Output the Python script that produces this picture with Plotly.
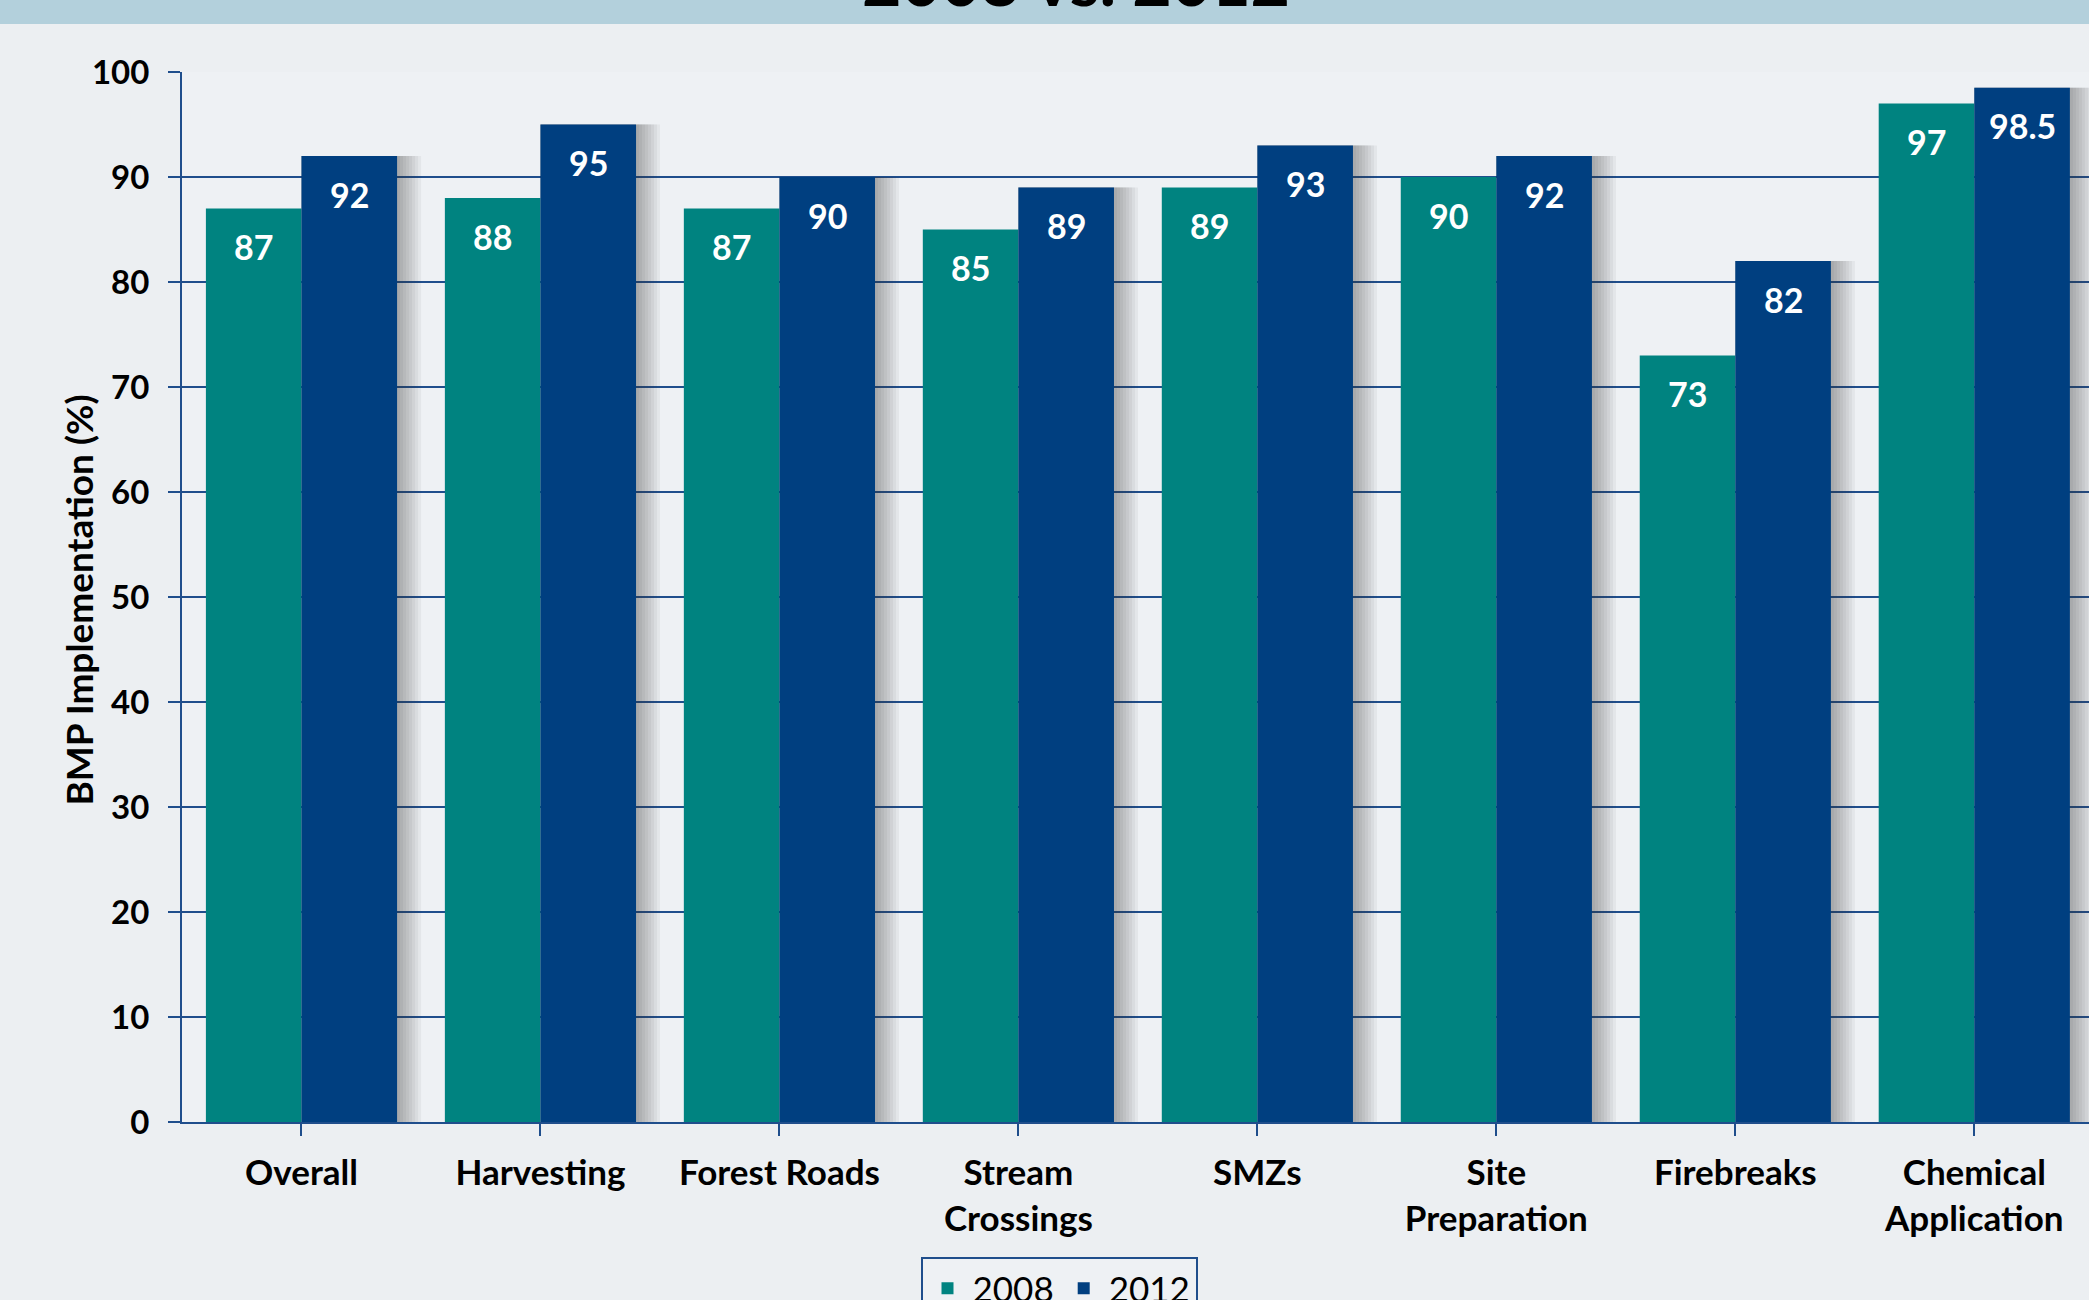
import plotly.graph_objects as go

categories = ["Overall", "Harvesting", "Forest Roads", "Stream<br>Crossings", "SMZs",
              "Site<br>Preparation", "Firebreaks", "Chemical<br>Application"]
values_2008 = [87, 88, 87, 85, 89, 90, 73, 97]
values_2012 = [92, 95, 90, 89, 93, 92, 82, 98.5]
series_names = ["2008", "2012"]
y_ticks = [0, 10, 20, 30, 40, 50, 60, 70, 80, 90, 100]

TEAL = "#008380"
NAVY = "#003F80"
GRID = "#1F4E8C"
FONT = "Lato"

W, H = 2089, 1300
L, R, T, B = 182, 0, 72, 178
X_RANGE = [-0.5, 7.48]
px_per_cat = (W - L - R) / (X_RANGE[1] - X_RANGE[0])
BW = 0.4

fig = go.Figure()
x_idx = list(range(len(categories)))

# soft drop shadow to the right of each bar group (layers of translucent gray)
for k in range(1, 9):
    ext = 3 * k / px_per_cat
    fig.add_trace(go.Bar(
        x=x_idx, y=values_2012, offset=0, width=BW + ext,
        marker=dict(color="rgba(60,60,60,0.055)", line=dict(width=0)),
        showlegend=False, hoverinfo="skip",
    ))

for name, vals, col, off in [(series_names[0], values_2008, TEAL, -BW),
                             (series_names[1], values_2012, NAVY, 0)]:
    fig.add_trace(go.Bar(
        x=x_idx, y=vals, name=name, offset=off, width=BW,
        marker=dict(color=col, line=dict(width=0)),
    ))

# value labels inside bar tops
bar_px = px_per_cat * BW
for vals, sh in [(values_2008, -bar_px / 2), (values_2012, bar_px / 2)]:
    for i, v in enumerate(vals):
        fig.add_annotation(x=i, y=v, xref="x", yref="y", text=f"<b>{v:g}</b>",
                           showarrow=False, xshift=sh, yshift=-38,
                           font=dict(family=FONT, size=34, color="white"))

plot_h = H - T - B
# top band
fig.add_shape(type="rect", xref="paper", yref="paper",
              x0=-L / (W - L), x1=1.0, y0=(plot_h + T - 24) / plot_h, y1=(plot_h + T + 5) / plot_h,
              fillcolor="#B3D0DC", line=dict(width=0), layer="below")
# title partially cut at top edge
fig.add_annotation(xref="paper", yref="paper", x=(1076 - L) / (W - L), y=(plot_h + T - 22) / plot_h,
                   yanchor="bottom", text="<b>2008 vs. 2012</b>", showarrow=False,
                   font=dict(family=FONT, size=68, color="black"))
# y title
fig.add_annotation(xref="paper", yref="paper", x=(53 - L) / (W - L), y=(1122 - 600) / plot_h,
                   text="<b>BMP Implementation (%)</b>", textangle=-90, showarrow=False,
                   font=dict(family=FONT, size=37, color="black"))

fig.update_layout(
    width=W, height=H,
    margin=dict(l=L, r=R, t=T, b=B, pad=0, autoexpand=False),
    barmode="overlay",
    paper_bgcolor="#ECEFF2", plot_bgcolor="#EEF1F4",
    font=dict(family=FONT, color="black"),
    legend=dict(orientation="h", x=(1059 - L) / (W - L), xanchor="center",
                y=(1122 - 1257) / plot_h, yanchor="top",
                bordercolor=GRID, borderwidth=2, bgcolor="#EEF1F4",
                font=dict(family=FONT, size=35, color="black"), traceorder="normal",
                itemwidth=40),
    showlegend=True,
)
fig.update_xaxes(
    tickmode="array", tickvals=x_idx, ticktext=[f"<b>{c}</b>" for c in categories],
    range=X_RANGE, showgrid=False, showline=True, linecolor=GRID, linewidth=2,
    ticks="outside", ticklen=12, tickcolor=GRID, tickwidth=2, tickson="boundaries",
    tickfont=dict(family=FONT, size=35, color="black"), ticklabelstandoff=7,
)
fig.update_yaxes(
    range=[0, 100], tickmode="array", tickvals=y_ticks, ticktext=[f"<b>{t}</b>" for t in y_ticks],
    showgrid=True, gridcolor=GRID, gridwidth=2, showline=True, linecolor=GRID, linewidth=2,
    ticks="outside", ticklen=12, tickcolor=GRID, tickwidth=2, zeroline=False,
    tickfont=dict(family=FONT, size=33, color="black"), ticklabelstandoff=12,
)

fig.write_html("out.html", config={"displayModeBar": False},
               post_script="document.body.style.margin='0';document.body.style.overflow='hidden';")
